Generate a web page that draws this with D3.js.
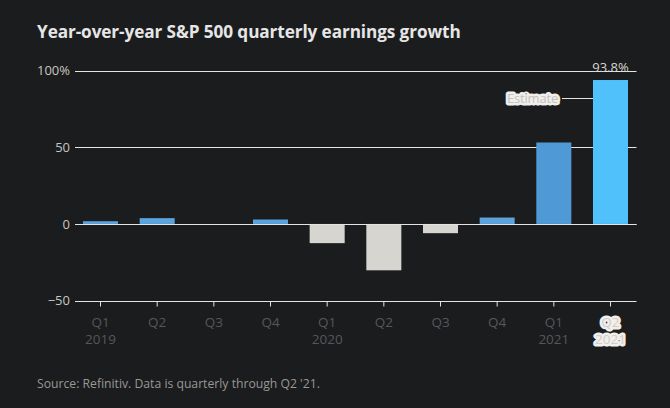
<!DOCTYPE html>
<html><head><meta charset="utf-8">
<script src="https://cdn.jsdelivr.net/npm/d3@7"></script>
<style>
html,body{margin:0;padding:0;background:#1b1c1e;}
svg{display:block;}
</style></head>
<body>
<svg id="chart" width="670" height="408"></svg>
<script>
const quarters = ["Q1","Q2","Q3","Q4","Q1","Q2","Q3","Q4","Q1","Q2"];
const years    = ["2019","","","","2020","","","","2021","2021"];
const growth   = [1.8, 3.8, 0, 2.9, -12.5, -30.2, -6.0, 4.2, 53.1, 93.8];
const yTicks   = [-50, 0, 50, 100];
const yTickLabels = ["\u221250", "0", "50", "100%"];

const svg = d3.select("#chart");
const W = 670, H = 408;
svg.append("rect").attr("width", W).attr("height", H).attr("fill", "#1b1c1e");

const keys = growth.map((d,i)=>i);
const x = d3.scaleBand().domain(keys).range([83, 628]).paddingInner(0.382).paddingOuter(0);
const y = d3.scaleLinear().domain([-50, 100]).range([300.7, 70.5]);

const font = "'Open Sans', 'Noto Sans', sans-serif";

// title
svg.append("text").attr("x", 37).attr("y", 38)
  .attr("font-family", font).attr("font-weight", 700).attr("font-size", 17.2)
  .attr("fill", "#e6e6e6").attr("letter-spacing", -0.1)
  .text("Year-over-year S&P 500 quarterly earnings growth");

// gridlines
const grid = svg.append("g");
grid.selectAll("line").data(yTicks).join("line")
  .attr("x1", 75).attr("x2", 636.5)
  .attr("y1", d=>Math.round(y(d))+0.5).attr("y2", d=>Math.round(y(d))+0.5)
  .attr("stroke", "#e4e4e4").attr("stroke-width", 1);

// y labels
svg.append("g").selectAll("text").data(yTicks).join("text")
  .attr("x", 70).attr("y", d=>y(d)).attr("dy", "0.35em")
  .attr("text-anchor", "end").attr("font-family", font).attr("font-size", 13)
  .attr("fill", "#c9c6c0").text((d,i)=>yTickLabels[i]);

// bars
function barColor(d,i){
  if (i === growth.length-1) return "#50c1fa";
  if (d < 0) return "#d7d5cf";
  return i === growth.length-2 ? "#4f9ad6" : "#5ba3dc";
}
svg.append("g").selectAll("rect").data(growth).join("rect")
  .attr("x", (d,i)=>x(i)).attr("width", x.bandwidth())
  .attr("y", d=>y(Math.max(0,d))).attr("height", d=>Math.abs(y(d)-y(0)))
  .attr("fill", barColor);

// zero line on top
svg.append("line").attr("x1", 75).attr("x2", 636.5)
  .attr("y1", Math.round(y(0))+0.5).attr("y2", Math.round(y(0))+0.5)
  .attr("stroke", "#e4e4e4").attr("stroke-width", 1);

// x axis ticks
const xAxisY = Math.round(y(-50))+0.5;
svg.append("g").selectAll("line").data(keys).join("line")
  .attr("x1", i=>x(i)+x.bandwidth()/2).attr("x2", i=>x(i)+x.bandwidth()/2)
  .attr("y1", xAxisY).attr("y2", xAxisY+5)
  .attr("stroke", "#e4e4e4").attr("stroke-width", 1);

// x labels
const xl = svg.append("g");
keys.forEach(i=>{
  const cx = x(i)+x.bandwidth()/2;
  const last = i === keys.length-1;
  const lines = [quarters[i], years[i]].filter(s=>s);
  lines.forEach((s,j)=>{
    const t = xl.append("text").attr("x", cx).attr("y", 327 + j*17)
      .attr("text-anchor", "middle").attr("font-family", font).attr("font-size", 13.5)
      .text(s);
    if (last) {
      t.attr("fill", "#cfcdc8").attr("stroke", "#f1efeb").attr("stroke-width", 5)
       .attr("stroke-linejoin", "round").attr("paint-order", "stroke");
    } else {
      t.attr("fill", "#56575a");
    }
  });
});

// value label for last bar
const lastI = growth.length-1;
svg.append("text").attr("x", x(lastI)+x.bandwidth()/2).attr("y", 72)
  .attr("text-anchor", "middle").attr("font-family", font).attr("font-size", 13)
  .attr("fill", "#d8d6d0").text(growth[lastI].toFixed(1) + "%");

// Estimate annotation
const estY = 98;
svg.append("line").attr("x1", 562).attr("x2", x(lastI)).attr("y1", estY+0.5).attr("y2", estY+0.5)
  .attr("stroke", "#e4e4e4").attr("stroke-width", 1);
svg.append("text").attr("x", 558).attr("y", estY).attr("dy", "0.35em")
  .attr("text-anchor", "end").attr("font-family", font).attr("font-size", 13)
  .attr("fill", "#c4c2bd").attr("stroke", "#f1efeb").attr("stroke-width", 5)
  .attr("stroke-linejoin", "round").attr("paint-order", "stroke")
  .attr("letter-spacing", -0.2)
  .text("Estimate");

// source
svg.append("text").attr("x", 37).attr("y", 388)
  .attr("font-family", font).attr("font-size", 12.2)
  .attr("fill", "#9a9893")
  .text("Source: Refinitiv. Data is quarterly through Q2 '21.");
</script>
</body></html>
